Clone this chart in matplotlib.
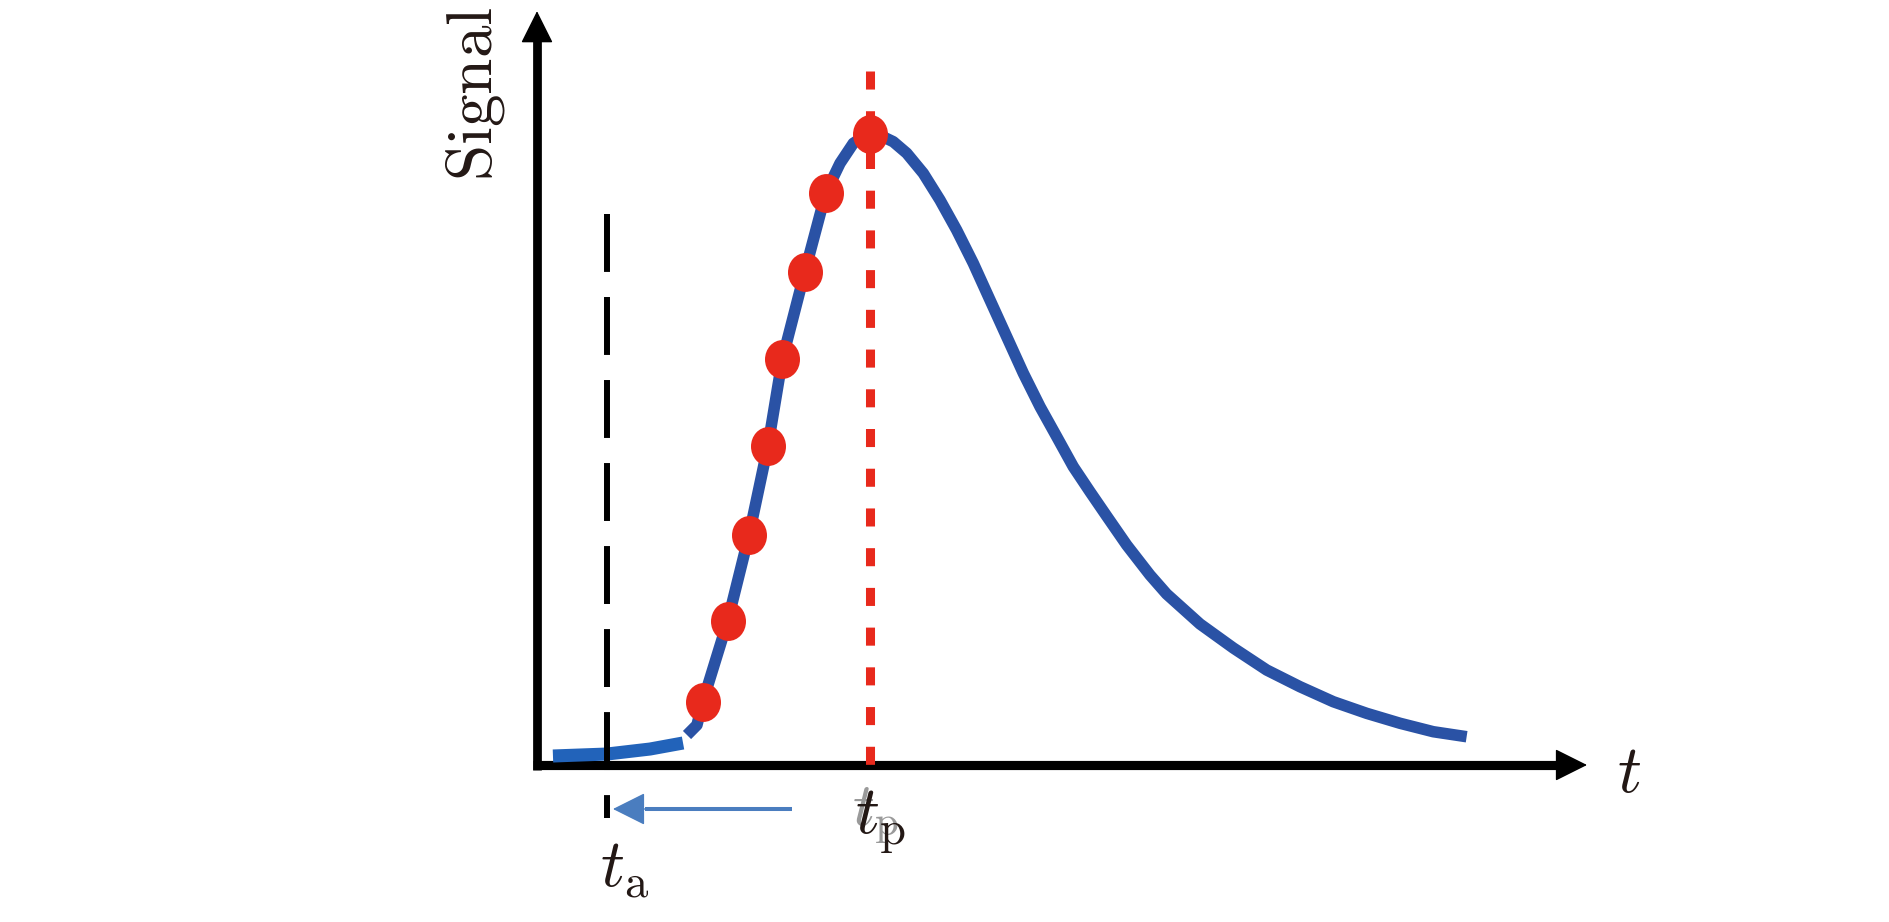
import numpy as np
import matplotlib
matplotlib.use("Agg")
import matplotlib.pyplot as plt
from matplotlib.path import Path

plt.rcParams['mathtext.fontset'] = 'cm'

# signal curve (time, signal), peak normalised to ~100
t_curve = [12.5, 13.33, 13.81, 15.89, 17.67, 19.25, 20.44, 22.32, 24.07, 25.25, 26.36,
           27.92, 29.69, 30.81, 32.19, 33.58, 34.97, 36.36, 37.75, 39.14, 40.53, 41.92,
           43.31, 44.69, 46.08, 47.47, 49.14, 51.08, 52.47, 55.25, 58.03, 60.81, 63.58,
           66.36, 69.14, 71.92, 74.69, 77.47]
s_curve = [4.73, 6.31, 9.94, 22.71, 36.28, 50.38, 63.96, 77.79, 90.27, 94.9, 98.06,
           99.92, 98.31, 96.5, 93.33, 89.12, 84.38, 79.13, 73.34, 67.56, 61.78, 56.51,
           51.78, 47.05, 43.11, 39.27, 34.7, 29.97, 26.97, 22.24, 18.45, 14.98, 12.35,
           9.98, 8.15, 6.58, 5.25, 4.46]

# baseline part before arrival
t_base = [1.33, 5.83, 9.42, 12.17]
s_base = [1.42, 1.73, 2.52, 3.47]

# sampled points on the rising edge
t_dots = [13.81, 15.89, 17.67, 19.25, 20.44, 22.32, 24.07, 27.75]
s_dots = [9.94, 22.71, 36.28, 50.38, 63.96, 77.79, 90.27, 99.5]

t_a = 5.8
t_p = 27.75

txt = '#231815'
blue = '#2a52a5'
red = '#e8291c'

fig = plt.figure(figsize=(18.9, 9.22), dpi=100)
ax = fig.add_axes([0, 0, 1, 1])
ax.set_xlim(-44.75, 112.75)
ax.set_ylim(-24.763, 120.662)
ax.axis('off')


def head(tip, base, color, ms=52):
    ax.annotate('', xy=tip, xytext=base,
                arrowprops=dict(arrowstyle='-|>,head_length=0.4,head_width=0.2',
                                mutation_scale=ms, lw=1, color=color,
                                shrinkA=0, shrinkB=0), zorder=2)


# axes as arrows
ax.plot([0, 0], [-0.8, 114.5], color='black', lw=6.3, solid_capstyle='butt', zorder=2)
head((0, 118.9), (0, 110), 'black')
ax.plot([-0.33, 85.3], [0, 0], color='black', lw=6.6, solid_capstyle='butt', zorder=2)
head((87.5, 0), (80, 0), 'black')

ax.plot(t_base, s_base, color='#2263ba', lw=9.4, solid_capstyle='butt', zorder=3)
ax.plot(t_curve, s_curve, color=blue, lw=8.3, solid_capstyle='butt',
        solid_joinstyle='round', zorder=3)

# slightly tall oval markers
circ = Path.unit_circle()
oval = Path(circ.vertices * [0.9, 1.0], circ.codes)
ax.plot(t_dots, s_dots, linestyle='none', marker=oval, color=red, markersize=28,
        markeredgewidth=0, zorder=4)

# arrival time (dashed) and peak time (dotted)
ax.plot([t_a, t_a], [86.9, -8.36], color='black', lw=4.3, dashes=(9.7, 4.2), zorder=5)
ax.plot([t_p, t_p], [109.5, -1.3], color=red, lw=6.5, dashes=(2.0, 2.4), zorder=5)

# arrow from t_p back to t_a
ax.plot([21.25, 9.0], [-6.94, -6.94], color='#4a7dbf', lw=2.9,
        solid_capstyle='butt', zorder=2)
head((6.33, -6.94), (15, -6.94), '#4a7dbf')

ax.text(-5.17, 105.9, r'$\mathrm{Signal}$', rotation=90, ha='center', va='center',
        fontsize=47, color=txt)
ax.text(90.0, -4.26, r'$t$', ha='left', va='baseline', fontsize=48, color=txt)
ax.text(5.25, -19.1, r'$t_{\mathrm{a}}$', ha='left', va='baseline', fontsize=48, color=txt)
ax.text(26.25, -9.46, r'$t_{\mathrm{p}}$', ha='left', va='baseline', fontsize=44,
        color='#9a9a9a')
ax.text(26.5, -10.88, r'$t_{\mathrm{p}}$', ha='left', va='baseline', fontsize=48, color=txt)

fig.savefig('out.png', dpi=100, facecolor='white')
